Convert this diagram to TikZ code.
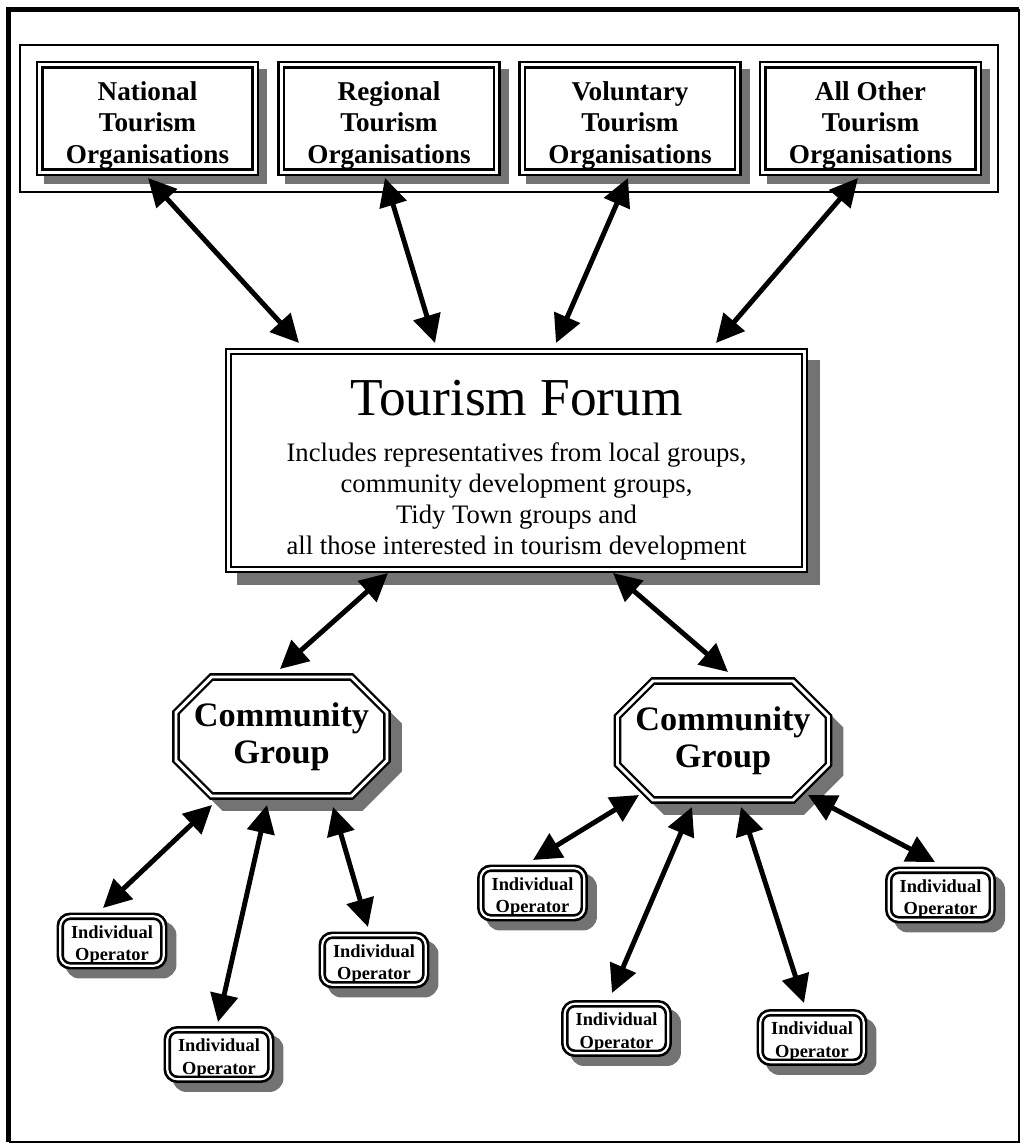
\documentclass[tikz,border=0pt]{standalone}
\usepackage{fontspec}
\setmainfont{Liberation Serif}
\usetikzlibrary{arrows.meta,calc,backgrounds}
\definecolor{shadowgray}{gray}{0.45}
\newcommand\octo[6]{\path[#6] ($(#1.north west)+({#2+#4},{-#3+#5})$) -- ($(#1.north east)+({-#2+#4},{-#3+#5})$) -- ($(#1.north east)+({#3+#4},{#2+#5})$) -- ($(#1.south east)+({#3+#4},{-#2+#5})$) -- ($(#1.south east)+({-#2+#4},{#3+#5})$) -- ($(#1.south west)+({#2+#4},{#3+#5})$) -- ($(#1.south west)+({-#3+#4},{-#2+#5})$) -- ($(#1.north west)+({-#3+#4},{#2+#5})$) -- cycle;}
\tikzset{
  dblframe/.style={draw=black, fill=white, double=white, line width=1.8pt, double distance=2.2pt, outer sep=0pt, inner sep=0pt},
  orgbox/.style={dblframe, minimum width=161.5pt, minimum height=80.5pt},
  orgtext/.style={font=\fontsize{20.4}{23.6}\selectfont\bfseries, align=center, inner sep=0pt},
  groupframe/.style={draw=black, line width=1.5pt, minimum width=733.5pt, minimum height=110.25pt, inner sep=0pt},
  forumbox/.style={dblframe, double distance=1.8pt, minimum width=432pt, minimum height=163.3pt},
  titletext/.style={font=\fontsize{40}{48}\selectfont, inner sep=0pt},
  subtext/.style={font=\fontsize{20}{23.25}\selectfont, align=center, inner sep=0pt},
  cgnode/.style={minimum width=158.25pt, minimum height=89.25pt, inner sep=0pt, outer sep=0pt, font=\fontsize{25.7}{27.75}\selectfont\bfseries, align=center},
  octline/.style={draw=black, fill=white, double=white, line width=1.8pt, double distance=2.2pt},
  iobox/.style={dblframe, rounded corners=7.5pt, line width=2pt, double distance=1.6pt, minimum width=77.6pt, minimum height=37.1pt},
  iotext/.style={font=\fontsize{13.8}{17}\selectfont\bfseries, align=center, inner sep=0pt},
  shadowfill/.style={fill=shadowgray},
  link/.style={{Triangle[length=21pt,width=20.5pt]}-{Triangle[length=21pt,width=20.5pt]}, line width=3.7pt},
}
\begin{document}
\begin{tikzpicture}[x=0.75pt,y=-0.75pt]
\useasboundingbox (0,0) rectangle (1022,1144);
% outer frame
\draw[line width=3.75pt] (8.5,1142) -- (8.5,9.5) -- (1019,9.5);
\draw[line width=1.5pt] (1019,9.5) -- (1019,1142) -- (8.5,1142);
% organisations group
\node[groupframe] (orgs) at (509,118.5) {};
\node[orgbox] (nat) at (147.5,118.5) {};
\node[orgbox] (reg) at (389,118.5) {};
\node[orgbox] (vol) at (630,118.5) {};
\node[orgbox] (oth) at (870.5,118.5) {};
\node[orgtext] (natT) at ([shift={(0,6.8)}]nat.center) {National\\Tourism\\Organisations};
\node[orgtext] (regT) at ([shift={(0,6.8)}]reg.center) {Regional\\Tourism\\Organisations};
\node[orgtext] (volT) at ([shift={(0,6.8)}]vol.center) {Voluntary\\Tourism\\Organisations};
\node[orgtext] (othT) at ([shift={(0,6.8)}]oth.center) {All Other\\Tourism\\Organisations};
% forum
\node[forumbox] (forum) at (516.5,460.5) {};
\node[titletext, anchor=base] (fT) at (516.5,415) {Tourism Forum};
\node[subtext] (fS) at (516.5,501.3) {Includes representatives from local groups,\\community development groups,\\Tidy Town groups and\\all those interested in tourism development};
% community groups
\node[cgnode] (cg1) at (281.5,736.5) {Community\\Group};
\node[cgnode] (cg2) at (723,740.5) {Community\\Group};
% individual operators
\node[iobox] (io1) at (112,941) {};
\node[iobox] (io2) at (219,1054.5) {};
\node[iobox] (io3) at (374,960) {};
\node[iobox] (io4) at (532.5,893) {};
\node[iobox] (io5) at (616.5,1028.5) {};
\node[iobox] (io6) at (812,1037.5) {};
\node[iobox] (io7) at (940.5,895) {};
\foreach \n in {io1,io2,io3,io4,io5,io6,io7} {\node[iotext] (\n t) at ([shift={(0,4)}]\n.center) {Individual\\Operator};}
% shadows and octagons
\begin{pgfonlayer}{background}
\foreach \n in {nat,reg,vol,oth} {\fill[shadowfill] ($(\n.north west)+(4,4)$) rectangle ($(\n.south east)+(12,12)$);}
\fill[shadowfill] ($(forum.north west)+(8.4,8.4)$) rectangle ($(forum.south east)+(15.6,15.6)$);
\foreach \n in {io1,io2,io3,io4,io5,io6,io7} {\fill[shadowfill, rounded corners=10.5pt] ($(\n.north west)+(5.25,5.25)$) rectangle ($(\n.south east)+(12.75,12.75)$);}
\octo{cg1}{35.5}{3.85}{11}{11}{shadowfill}
\octo{cg2}{35.5}{3.85}{11}{11}{shadowfill}
\octo{cg1}{35.5}{0}{0}{0}{octline}
\octo{cg2}{35.5}{0}{0}{0}{octline}
\end{pgfonlayer}
% connectors
\draw[link] ([shift={(0.5,59.5)}]nat.center) -- ([shift={(-217.5,-117.5)}]forum.center);
\draw[link] ([shift={(-4,59.5)}]reg.center) -- ([shift={(-81.5,-117.5)}]forum.center);
\draw[link] ([shift={(-2,59.5)}]vol.center) -- ([shift={(39.5,-117.5)}]forum.center);
\draw[link] ([shift={(-12.5,59.5)}]oth.center) -- ([shift={(199.5,-117.5)}]forum.center);
\draw[link] ([shift={(-128.5,112.5)}]forum.center) -- ([shift={(-1.5,-67.5)}]cg1.center);
\draw[link] ([shift={(96.5,112.5)}]forum.center) -- ([shift={(5,-68.5)}]cg2.center);
\draw[link] ([shift={(-69.5,68.5)}]cg1.center) -- ([shift={(-9,-33)}]io1.center);
\draw[link] ([shift={(-14.5,68.5)}]cg1.center) -- ([shift={(-1,-32.5)}]io2.center);
\draw[link] ([shift={(51.5,70.5)}]cg1.center) -- ([shift={(-6,-33)}]io3.center);
\draw[link] ([shift={(-84,54.5)}]cg2.center) -- ([shift={(0.5,-33)}]io4.center);
\draw[link] ([shift={(-31,66.5)}]cg2.center) -- ([shift={(-4.5,-35.5)}]io5.center);
\draw[link] ([shift={(18,66.5)}]cg2.center) -- ([shift={(-8,-34.5)}]io6.center);
\draw[link] ([shift={(85,54.5)}]cg2.center) -- ([shift={(-5.5,-33)}]io7.center);
\end{tikzpicture}
\end{document}
